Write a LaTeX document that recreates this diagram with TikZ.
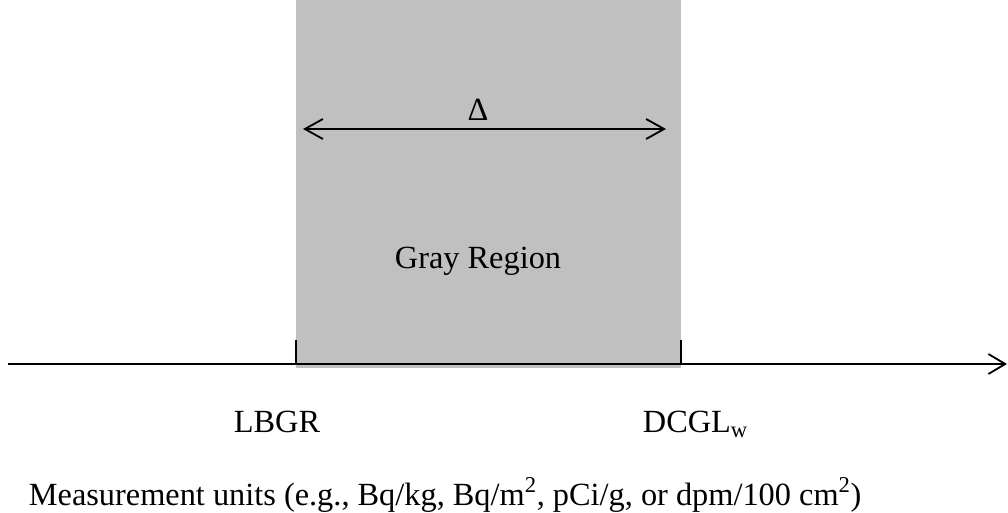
\documentclass[tikz,border=0pt]{standalone}
\usepackage{fontspec}
\setmainfont{Liberation Serif}
\usetikzlibrary{arrows.meta,positioning}
\definecolor{regiongray}{RGB}{192,192,192}
\begin{document}
\begin{tikzpicture}[x=0.025cm,y=-0.025cm,line width=1.3pt,
    txt/.style={font=\fontsize{23}{27}\selectfont,inner sep=0pt},
    barb/.style={-{Straight Barb[length=0.42cm,width=0.5cm,line width=1.3pt]}},
    dbarb/.style={{Straight Barb[length=0.45cm,width=0.5cm,line width=1.3pt]}-{Straight Barb[length=0.45cm,width=0.5cm,line width=1.3pt]}}]
  \useasboundingbox (0,0) rectangle (1008,513);
  % gray region
  \fill[regiongray] (296,0) rectangle (681,368);
  % axis
  \coordinate (axstart) at (8,364);
  \coordinate (axend) at (1007,364);
  \coordinate (lbgrpt) at (296,364);
  \coordinate (dcglpt) at (681,364);
  \draw[barb] (axstart) -- (axend);
  \draw (lbgrpt) -- ++(0,-24);
  \draw (dcglpt) -- ++(0,-24);
  % width of the gray region
  \coordinate (deltaleft) at (303,129);
  \coordinate (deltaright) at (666,129);
  \draw[dbarb] (deltaleft) -- (deltaright);
  \node[txt,anchor=base] (delta) at (478,120) {Δ};
  \node[txt,anchor=base] (region) at (478,268) {Gray Region};
  \node[txt,anchor=base] (lbgr) at (277,432) {LBGR};
  \node[txt,anchor=base west] (dcgl) at (642,432) {DCGL\textsubscript{w}};
  \node[txt,anchor=base west] (units) at (28,505) {Measurement units (e.g., Bq/kg, Bq/m\textsuperscript{2}, pCi/g, or dpm/100 cm\textsuperscript{2})};
\end{tikzpicture}
\end{document}
